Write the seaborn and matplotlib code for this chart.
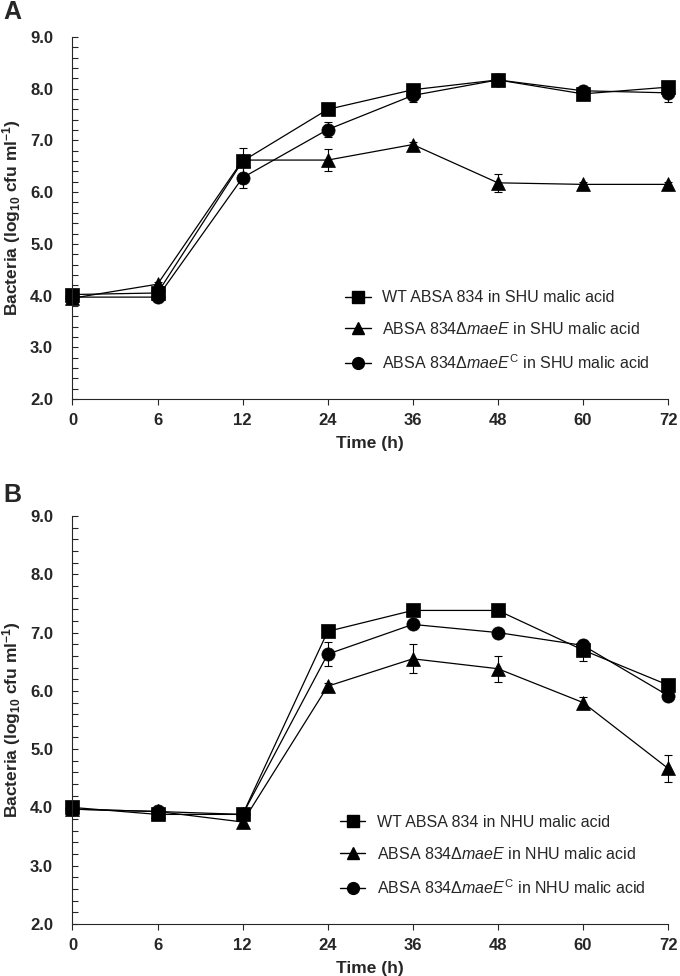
import numpy as np
import pandas as pd
import matplotlib
matplotlib.use("Agg")
import matplotlib.pyplot as plt
import seaborn as sns
from matplotlib.lines import Line2D

# time points (h), plotted at even spacing
time_labels = ['0', '6', '12', '24', '36', '48', '60', '72']

# Panel A - SHU malic acid
a_wt = [4.02, 4.05, 6.60, 7.60, 7.98, 8.17, 7.90, 8.03]
a_tri = [3.95, 4.22, 6.62, 6.62, 6.92, 6.18, 6.15, 6.15]
a_circ = [3.97, 3.97, 6.28, 7.21, 7.87, 8.17, 7.96, 7.92]
a_wt_sd = [0.05, 0.05, 0.25, 0.05, 0.05, 0.05, 0.05, 0.05]
a_tri_sd = [0.05, 0.05, 0.05, 0.22, 0.05, 0.18, 0.05, 0.05]
a_circ_sd = [0.05, 0.05, 0.20, 0.15, 0.13, 0.05, 0.05, 0.17]

# Panel B - NHU malic acid
b_wt = [4.00, 3.88, 3.88, 7.02, 7.38, 7.38, 6.70, 6.10]
b_tri = [3.97, 3.93, 3.75, 6.08, 6.55, 6.38, 5.80, 4.67]
b_circ = [3.97, 3.93, 3.88, 6.63, 7.14, 7.00, 6.78, 5.92]
b_wt_sd = [0.05, 0.05, 0.05, 0.05, 0.05, 0.05, 0.18, 0.05]
b_tri_sd = [0.05, 0.05, 0.05, 0.05, 0.25, 0.22, 0.10, 0.23]
b_circ_sd = [0.05, 0.05, 0.05, 0.20, 0.05, 0.05, 0.05, 0.05]

sns.set_style("ticks")
plt.rcParams['font.family'] = ['Liberation Sans', 'DejaVu Sans']
plt.rcParams['mathtext.fontset'] = 'custom'
plt.rcParams['mathtext.rm'] = 'Liberation Sans'
plt.rcParams['mathtext.it'] = 'Liberation Sans:italic'
plt.rcParams['mathtext.bf'] = 'Liberation Sans:bold'
plt.rcParams['mathtext.default'] = 'regular'

fig = plt.figure(figsize=(6.8, 9.76), dpi=100)
ax_a = fig.add_axes([0.1066, 0.5912, 0.8758, 0.3709])
ax_b = fig.add_axes([0.1066, 0.0533, 0.8758, 0.4180])

markers = {'wt': 's', 'tri': '^', 'circ': 'o'}


def draw_panel(ax, wt, tri, circ, wt_sd, tri_sd, circ_sd, medium, anchor):
    pos = list(range(len(time_labels)))
    df = pd.DataFrame({
        'pos': pos * 3,
        'cfu': tri + circ + wt,
        'strain': ['tri'] * 8 + ['circ'] * 8 + ['wt'] * 8,
    })
    # error bars first so markers sit over them
    for vals, sd in [(tri, tri_sd), (circ, circ_sd), (wt, wt_sd)]:
        ax.errorbar(pos, vals, yerr=sd, fmt='none', ecolor='black',
                    elinewidth=0.8, capsize=3, capthick=0.8, clip_on=False)
    sns.lineplot(data=df, x='pos', y='cfu', hue='strain', style='strain',
                 hue_order=['tri', 'circ', 'wt'], style_order=['tri', 'circ', 'wt'],
                 markers=markers, dashes=False,
                 palette={'wt': 'black', 'tri': 'black', 'circ': 'black'},
                 markersize=9.5, markeredgecolor='black', markeredgewidth=0.5,
                 linewidth=0.9, legend=False, errorbar=None, ax=ax, clip_on=False)

    ax.set_xlim(0, 7)
    ax.set_ylim(2, 9)
    ax.set_xticks(pos)
    ax.set_xticklabels(time_labels)
    ax.set_yticks(np.arange(2, 9.1, 1))
    ax.set_yticklabels([f'{v:.1f}' for v in np.arange(2, 9.1, 1)])
    ax.set_yticks(np.arange(2, 9.01, 0.2), minor=True)
    ax.tick_params(axis='y', which='both', direction='in', length=4, width=0.8, pad=14)
    ax.tick_params(axis='x', direction='out', length=4, width=0.8, pad=6)
    for lab in ax.get_xticklabels() + ax.get_yticklabels():
        lab.set_fontweight('bold')
        lab.set_fontsize(12)
    for s in ['left', 'bottom']:
        ax.spines[s].set_linewidth(0.8)
    sns.despine(ax=ax)

    ax.set_xlabel('Time (h)', fontsize=12.5, fontweight='bold', labelpad=6)
    ax.set_ylabel(r'Bacteria (log$_{10}$ cfu ml$^{-1}$)', fontsize=12.5,
                  fontweight='bold')
    ax.yaxis.set_label_coords(-0.083, 0.5)

    handles = [Line2D([], [], color='black', marker=m, markersize=8.5, lw=1)
               for m in ['s', '^', 'o']]
    labels = [
        f'WT ABSA 834 in {medium} malic acid',
        'ABSA 834Δ$\\mathit{maeE}$ in ' + medium + ' malic acid',
        'ABSA 834Δ$\\mathit{maeE}^{C}$ in ' + medium + ' malic acid',
    ]
    ax.legend(handles, labels, loc='center left', bbox_to_anchor=anchor,
              frameon=False, fontsize=11.5, handlelength=1.6, handletextpad=0.7,
              labelspacing=1.0, borderpad=0, borderaxespad=0)


draw_panel(ax_a, a_wt, a_tri, a_circ, a_wt_sd, a_tri_sd, a_circ_sd, 'SHU', (0.458, 0.188))
draw_panel(ax_b, b_wt, b_tri, b_circ, b_wt_sd, b_tri_sd, b_circ_sd, 'NHU', (0.449, 0.167))

fig.text(0.005, 0.988, 'A', fontsize=18, fontweight='bold', va='center', ha='left')
fig.text(0.005, 0.493, 'B', fontsize=18, fontweight='bold', va='center', ha='left')

fig.savefig('out.png', dpi=100)
